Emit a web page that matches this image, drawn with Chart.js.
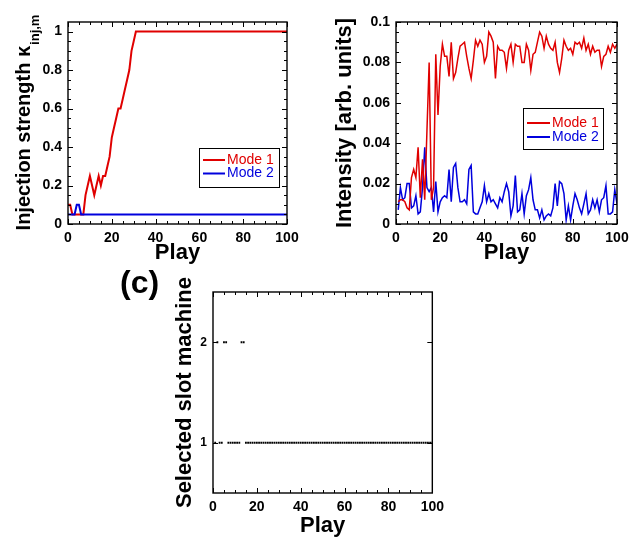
<!DOCTYPE html>
<html>
<head>
<meta charset="utf-8">
<script src="https://cdn.jsdelivr.net/npm/chart.js@4.4.1/dist/chart.umd.min.js"></script>
<style>
  body { margin: 0; background: #fff; width: 643px; height: 543px; position: relative; overflow: hidden; }
  canvas { position: absolute; }
  #labelC { position: absolute; left: 120px; top: 266px; font: bold 32px 'Liberation Sans', Arial, sans-serif; line-height: 32px; color: #000; }
</style>
</head>
<body>
<canvas id="chartA" width="320" height="270" style="left:0;top:0"></canvas>
<canvas id="chartB" width="323" height="270" style="left:320px;top:0"></canvas>
<canvas id="chartC" width="350" height="283" style="left:100px;top:260px"></canvas>
<div id="labelC">(c)</div>
<script>
// (a) injection strength per play, plays 0..100
const injectionMode1 = [
  0.1, 0.1, 0.05, 0.05, 0.05, 0.05, 0.05, 0.05, 0.15, 0.2,
  0.25, 0.2, 0.15, 0.2, 0.25, 0.2, 0.25, 0.25, 0.3, 0.35,
  0.45, 0.5, 0.55, 0.6, 0.6, 0.65, 0.7, 0.75, 0.8, 0.9,
  0.95, 1, 1, 1, 1, 1, 1, 1, 1, 1,
  1, 1, 1, 1, 1, 1, 1, 1, 1, 1,
  1, 1, 1, 1, 1, 1, 1, 1, 1, 1,
  1, 1, 1, 1, 1, 1, 1, 1, 1, 1,
  1, 1, 1, 1, 1, 1, 1, 1, 1, 1,
  1, 1, 1, 1, 1, 1, 1, 1, 1, 1,
  1, 1, 1, 1, 1, 1, 1, 1, 1, 1,
  1
];
const injectionMode2 = [
  0.05, 0.05, 0.05, 0.05, 0.1, 0.1, 0.05, 0.05, 0.05, 0.05,
  0.05, 0.05, 0.05, 0.05, 0.05, 0.05, 0.05, 0.05, 0.05, 0.05,
  0.05, 0.05, 0.05, 0.05, 0.05, 0.05, 0.05, 0.05, 0.05, 0.05,
  0.05, 0.05, 0.05, 0.05, 0.05, 0.05, 0.05, 0.05, 0.05, 0.05,
  0.05, 0.05, 0.05, 0.05, 0.05, 0.05, 0.05, 0.05, 0.05, 0.05,
  0.05, 0.05, 0.05, 0.05, 0.05, 0.05, 0.05, 0.05, 0.05, 0.05,
  0.05, 0.05, 0.05, 0.05, 0.05, 0.05, 0.05, 0.05, 0.05, 0.05,
  0.05, 0.05, 0.05, 0.05, 0.05, 0.05, 0.05, 0.05, 0.05, 0.05,
  0.05, 0.05, 0.05, 0.05, 0.05, 0.05, 0.05, 0.05, 0.05, 0.05,
  0.05, 0.05, 0.05, 0.05, 0.05, 0.05, 0.05, 0.05, 0.05, 0.05,
  0.05
];

// (b) intensity per play, plays 1..100
const intensityMode1 = [
  0.011, 0.012, 0.012, 0.011, 0.008, 0.007, 0.023, 0.027, 0.023, 0.038,
  0.013, 0.032, 0.012, 0.046, 0.08, 0.012, 0.018, 0.084, 0.054, 0.078,
  0.089, 0.083, 0.083, 0.073, 0.09, 0.072, 0.075, 0.082, 0.088, 0.089,
  0.09, 0.083, 0.077, 0.072, 0.081, 0.091, 0.088, 0.091, 0.089, 0.08,
  0.083, 0.095, 0.093, 0.09, 0.072, 0.088, 0.086, 0.086, 0.085, 0.077,
  0.086, 0.089, 0.08, 0.089, 0.088, 0.088, 0.08, 0.08, 0.089, 0.086,
  0.076, 0.084, 0.085, 0.09, 0.095, 0.093, 0.087, 0.093, 0.089, 0.087,
  0.086, 0.09, 0.08, 0.075, 0.082, 0.091, 0.088, 0.086, 0.087, 0.084,
  0.09, 0.089, 0.09, 0.087, 0.092, 0.086, 0.089, 0.084, 0.088, 0.085,
  0.086, 0.086, 0.078, 0.083, 0.084, 0.088, 0.085, 0.089, 0.087, 0.089
];
const intensityMode2 = [
  0.007, 0.018, 0.012, 0.013, 0.02, 0.02, 0.008, 0.009, 0.014, 0.005,
  0.006, 0.018, 0.038, 0.018, 0.016, 0.018, 0.006, 0.021, 0.006, 0.011,
  0.013, 0.014, 0.013, 0.027, 0.011, 0.028, 0.03, 0.018, 0.011, 0.011,
  0.012, 0.01, 0.027, 0.029, 0.006, 0.005, 0.005, 0.008, 0.011, 0.019,
  0.011, 0.015, 0.011, 0.012, 0.01, 0.008, 0.013, 0.011, 0.016, 0.02,
  0.016, 0.004, 0.009, 0.024, 0.006, 0.007, 0.015, 0.005, 0.014, 0.017,
  0.023, 0.012, 0.007, 0.007, 0.003, 0.007, 0.002, 0.004, 0.005, 0.004,
  0.008, 0.02, 0.009, 0.021, 0.02, 0.015, 0.002, 0.009, 0.002, 0.009,
  0.015, 0.012, 0.008, 0.005, 0.01, 0.015, 0.005, 0.007, 0.012, 0.008,
  0.012, 0.006, 0.012, 0.013, 0.019, 0.005, 0.005, 0.006, 0.017, 0.01
];

// (c) selected slot machine per play, plays 1..100
const selectedSlot = [
  1, 2, 1, 1, 2, 2, 1, 1, 1, 1,
  1, 1, 2, 2, 1, 1, 1, 1, 1, 1,
  1, 1, 1, 1, 1, 1, 1, 1, 1, 1,
  1, 1, 1, 1, 1, 1, 1, 1, 1, 1,
  1, 1, 1, 1, 1, 1, 1, 1, 1, 1,
  1, 1, 1, 1, 1, 1, 1, 1, 1, 1,
  1, 1, 1, 1, 1, 1, 1, 1, 1, 1,
  1, 1, 1, 1, 1, 1, 1, 1, 1, 1,
  1, 1, 1, 1, 1, 1, 1, 1, 1, 1,
  1, 1, 1, 1, 1, 1, 1, 1, 1, 1
];

const seriesLabels = ['Mode 1', 'Mode 2'];
const playTicks = [0, 20, 40, 60, 80, 100];
const playMinorTicks = [0, 5, 10, 15, 20, 25, 30, 35, 40, 45, 50, 55, 60, 65, 70, 75, 80, 85, 90, 95, 100];
const injectionTicks = [0, 0.2, 0.4, 0.6, 0.8, 1];
const injectionMinorTicks = [0, 0.05, 0.1, 0.15, 0.2, 0.25, 0.3, 0.35, 0.4, 0.45, 0.5, 0.55, 0.6, 0.65, 0.7, 0.75, 0.8, 0.85, 0.9, 0.95, 1];
const intensityTicks = [0, 0.02, 0.04, 0.06, 0.08, 0.1];
const intensityMinorTicks = [0, 0.005, 0.01, 0.015, 0.02, 0.025, 0.03, 0.035, 0.04, 0.045, 0.05, 0.055, 0.06, 0.065, 0.07, 0.075, 0.08, 0.085, 0.09, 0.095, 0.1];
const slotTicks = [1, 2];

const FONT = "'Liberation Sans', Arial, Helvetica, sans-serif";
const RED = '#e00000';
const BLUE = '#0000dd';

const toPoints = (values, first) => values.map((v, i) => ({ x: i + first, y: v }));
const fixTicks = (list) => (scale) => { scale.ticks = list.map((v) => ({ value: v })); };

// box around the plot with inward ticks on all four sides
const framePlugin = {
  id: 'frame',
  afterDatasetsDraw(chart, args, o) {
    const { ctx, chartArea: a, scales: { x, y } } = chart;
    ctx.save();
    ctx.strokeStyle = '#000';
    ctx.lineWidth = 1;
    ctx.beginPath();
    o.xMinor.forEach((v) => {
      const px = Math.round(x.getPixelForValue(v)) + 0.5;
      const len = o.xMajor.includes(v) ? 5 : 3;
      ctx.moveTo(px, a.bottom); ctx.lineTo(px, a.bottom - len);
      ctx.moveTo(px, a.top); ctx.lineTo(px, a.top + len);
    });
    o.yMinor.forEach((v) => {
      const py = Math.round(y.getPixelForValue(v)) + 0.5;
      const len = o.yMajor.includes(v) ? 5 : 3;
      ctx.moveTo(a.left, py); ctx.lineTo(a.left + len, py);
      ctx.moveTo(a.right, py); ctx.lineTo(a.right - len, py);
    });
    ctx.stroke();
    ctx.lineWidth = 1.4;
    ctx.strokeRect(a.left, a.top, a.right - a.left, a.bottom - a.top);
    ctx.restore();
  }
};

const boxLegend = {
  id: 'boxLegend',
  afterDraw(chart, args, o) {
    const ctx = chart.ctx;
    ctx.save();
    ctx.fillStyle = '#fff';
    ctx.fillRect(o.x, o.y, o.w, o.h);
    ctx.strokeStyle = '#000';
    ctx.lineWidth = 1;
    ctx.strokeRect(o.x + 0.5, o.y + 0.5, o.w, o.h);
    ctx.font = '14px ' + FONT;
    ctx.textBaseline = 'middle';
    chart.data.datasets.forEach((ds, i) => {
      const yy = o.rows[i];
      ctx.strokeStyle = ds.borderColor;
      ctx.lineWidth = 2;
      ctx.beginPath();
      ctx.moveTo(o.lineX[0], yy); ctx.lineTo(o.lineX[1], yy);
      ctx.stroke();
      ctx.fillStyle = ds.borderColor;
      ctx.fillText(ds.label, o.textX, yy);
    });
    ctx.restore();
  }
};

// y title of panel (a), with the subscript
const kappaTitle = {
  id: 'kappaTitle',
  afterDraw(chart, args, o) {
    const { ctx, chartArea: a } = chart;
    const mainFont = 'bold 20px ' + FONT;
    const subFont = 'bold 13px ' + FONT;
    ctx.save();
    ctx.fillStyle = '#000';
    ctx.font = mainFont;
    const w1 = ctx.measureText(o.text).width;
    ctx.font = subFont;
    const w2 = ctx.measureText(o.sub).width;
    ctx.translate(o.x, (a.top + a.bottom) / 2 + (w1 + w2) / 2);
    ctx.rotate(-Math.PI / 2);
    ctx.textAlign = 'left';
    ctx.textBaseline = 'alphabetic';
    ctx.font = mainFont;
    ctx.fillText(o.text, 0, 0);
    ctx.font = subFont;
    ctx.fillText(o.sub, w1 + 1, o.drop);
    ctx.restore();
  }
};

function axis(min, max, tickList, extra) {
  return Object.assign({
    type: 'linear',
    min: min,
    max: max,
    afterBuildTicks: fixTicks(tickList),
    grid: { display: false, drawTicks: false },
    border: { display: false },
    ticks: {
      color: '#000',
      font: { family: FONT, size: 14, weight: 'bold' },
      padding: 6,
      autoSkip: false,
      maxRotation: 0,
      callback: (v) => String(v)
    }
  }, extra);
}

const playTitle = (pad) => ({
  display: true, text: 'Play', color: '#000',
  font: { family: FONT, size: 22, weight: 'bold' },
  padding: { top: 0, bottom: pad }
});

new Chart(document.getElementById('chartA'), {
  type: 'line',
  data: {
    datasets: [
      { label: seriesLabels[0], data: toPoints(injectionMode1, 0), borderColor: RED, borderWidth: 2, pointRadius: 0, order: 2 },
      { label: seriesLabels[1], data: toPoints(injectionMode2, 0), borderColor: BLUE, borderWidth: 2, pointRadius: 0, order: 1 }
    ]
  },
  options: {
    responsive: false,
    animation: false,
    layout: { padding: { top: 22, right: 33, left: 0, bottom: 0 } },
    scales: {
      x: axis(0, 100, playTicks, { afterFit: (s) => { s.height = 46; }, title: playTitle(4) }),
      y: axis(0, 1.05, injectionTicks, { afterFit: (s) => { s.width = 68; } })
    },
    plugins: {
      legend: { display: false },
      tooltip: { enabled: false },
      frame: { xMajor: playTicks, xMinor: playMinorTicks, yMajor: injectionTicks, yMinor: injectionMinorTicks },
      boxLegend: { x: 199, y: 148, w: 80, h: 39, rows: [160, 173.5], lineX: [203, 225], textX: 227 },
      kappaTitle: { text: 'Injection strength κ', sub: 'inj,m', x: 30, drop: 9 }
    }
  },
  plugins: [framePlugin, boxLegend, kappaTitle]
});

new Chart(document.getElementById('chartB'), {
  type: 'line',
  data: {
    datasets: [
      { label: seriesLabels[0], data: toPoints(intensityMode1, 1), borderColor: RED, borderWidth: 1.5, pointRadius: 0 },
      { label: seriesLabels[1], data: toPoints(intensityMode2, 1), borderColor: BLUE, borderWidth: 1.5, pointRadius: 0 }
    ]
  },
  options: {
    responsive: false,
    animation: false,
    layout: { padding: { top: 22, right: 26, left: 0, bottom: 0 } },
    scales: {
      x: axis(0, 100, playTicks, { afterFit: (s) => { s.height = 46; }, title: playTitle(4) }),
      y: axis(0, 0.1, intensityTicks, {
        afterFit: (s) => { s.width = 76; },
        title: {
          display: true, text: 'Intensity [arb. units]', color: '#000',
          font: { family: FONT, size: 22, weight: 'bold' },
          padding: { top: 12, bottom: 0 }
        }
      })
    },
    plugins: {
      legend: { display: false },
      tooltip: { enabled: false },
      frame: { xMajor: playTicks, xMinor: playMinorTicks, yMajor: intensityTicks, yMinor: intensityMinorTicks },
      boxLegend: { x: 203, y: 108, w: 80, h: 41, rows: [123, 137], lineX: [207, 230], textX: 232 }
    }
  },
  plugins: [framePlugin, boxLegend]
});

const slotAxis = axis(0.5, 2.5, slotTicks, {
  afterFit: (s) => { s.width = 113; },
  title: {
    display: true, text: 'Selected slot machine', color: '#000',
    font: { family: FONT, size: 22, weight: 'bold' },
    padding: { top: 72, bottom: 0 }
  }
});
slotAxis.ticks.font = { family: FONT, size: 12, weight: 'bold' };

new Chart(document.getElementById('chartC'), {
  type: 'scatter',
  data: {
    datasets: [
      { label: 'Selected slot machine', data: toPoints(selectedSlot, 1), pointStyle: 'line', pointRadius: 0.9, borderWidth: 2, borderColor: '#000', backgroundColor: '#000' }
    ]
  },
  options: {
    responsive: false,
    animation: false,
    layout: { padding: { top: 32, right: 16, left: 0, bottom: 0 } },
    scales: {
      x: axis(0, 100, playTicks, { afterFit: (s) => { s.height = 50; }, title: playTitle(4) }),
      y: slotAxis
    },
    plugins: {
      legend: { display: false },
      tooltip: { enabled: false },
      frame: { xMajor: playTicks, xMinor: playMinorTicks, yMajor: slotTicks, yMinor: slotTicks }
    }
  },
  plugins: [framePlugin]
});
</script>
</body>
</html>
